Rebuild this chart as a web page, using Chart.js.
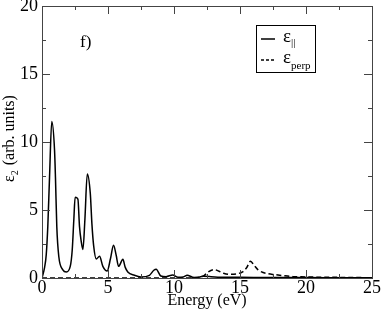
<!DOCTYPE html>
<html>
<head>
<meta charset="utf-8">
<script src="https://cdn.jsdelivr.net/npm/chart.js@4.4.1/dist/chart.umd.min.js"></script>
<style>
  html, body { margin: 0; padding: 0; background: #fff; }
  #wrap { width: 382px; height: 314px; }
</style>
</head>
<body>
<div id="wrap"><canvas id="epsChart" width="382" height="314"></canvas></div>
<script>
// eps parallel (solid line)
const energyPar = [0, 0.2, 0.32, 0.44, 0.57, 0.74, 0.95, 1.02, 1.12, 1.27, 1.58, 1.84, 2.14, 2.29, 2.41, 2.51,
  2.72, 2.84, 2.97, 3.1, 3.25, 3.43, 3.66, 3.78, 3.91, 4.11, 4.36, 4.61, 4.94, 5.19, 5.42, 5.62, 5.8, 6.13,
  6.3, 6.5, 7.0, 7.5, 8.14, 8.47, 8.65, 9.0, 9.4, 9.9, 10.3, 10.7, 11.0, 11.4, 11.7, 12.2, 12.8, 13.5, 15,
  17, 20, 22.5, 25];
const epsPar = [0, 0.8, 1.7, 3.8, 7.4, 11.5, 9.4, 7.4, 3.8, 1.6, 0.6, 0.44, 0.85, 2.06, 4.26, 5.93,
  5.8, 3.8, 2.7, 2.1, 4.3, 7.65, 6.2, 4.0, 2.4, 1.4, 1.6, 0.86, 0.52, 1.43, 2.4, 1.67, 0.86, 1.37,
  0.8, 0.44, 0.2, 0.08, 0.2, 0.57, 0.65, 0.15, 0.1, 0.22, 0.06, 0.08, 0.2, 0.06, 0.03, 0.12, 0.1, 0.06, 0.05,
  0.04, 0.03, 0.02, 0.01];

// eps perp (dashed line)
const energyPerp = [0, 3, 6, 9, 11, 12, 12.3, 12.6, 13.05, 13.4, 13.75, 14.2, 14.7, 15.2, 15.5, 15.8, 16.05,
  16.35, 16.7, 17.1, 17.6, 18.2, 19, 20, 21, 22, 23, 24, 25];
const epsPerp = [0, 0, 0, 0, 0, 0.08, 0.2, 0.45, 0.62, 0.5, 0.35, 0.27, 0.3, 0.45, 0.75, 1.23, 0.95,
  0.62, 0.42, 0.32, 0.25, 0.18, 0.1, 0.08, 0.06, 0.05, 0.04, 0.03, 0.02];

const xMin = 0, xMax = 25, xStep = 5;
const yMin = 0, yMax = 20, yStep = 5;

const serif = "'Liberation Serif', 'Times New Roman', serif";

function toPoints(xs, ys) {
  return xs.map((v, i) => ({ x: v, y: ys[i] }));
}

// frame, inward ticks, legend and labels with subscripts
const decorPlugin = {
  id: "decor",
  afterDraw(chart) {
    const { ctx, chartArea: a, scales: { x, y } } = chart;
    ctx.save();
    ctx.strokeStyle = "#444";
    ctx.lineWidth = 1;
    ctx.strokeRect(a.left + 0.5, a.top + 0.5, a.right - a.left, a.bottom - a.top);

    ctx.beginPath();
    for (let v = xMin; v <= xMax; v += xStep / 2) {
      const px = Math.round(x.getPixelForValue(v)) + 0.5;
      const len = v % xStep === 0 ? 8 : 4;
      ctx.moveTo(px, a.bottom); ctx.lineTo(px, a.bottom - len);
      ctx.moveTo(px, a.top); ctx.lineTo(px, a.top + len);
    }
    for (let v = yMin; v <= yMax; v += yStep / 2) {
      const py = Math.round(y.getPixelForValue(v)) + 0.5;
      const len = v % yStep === 0 ? 8 : 4;
      ctx.moveTo(a.left, py); ctx.lineTo(a.left + len, py);
      ctx.moveTo(a.right, py); ctx.lineTo(a.right - len, py);
    }
    ctx.stroke();

    // legend box
    ctx.strokeStyle = "#000";
    ctx.strokeRect(256.5, 25.5, 59, 47);
    ctx.lineWidth = 1.5;
    ctx.beginPath();
    ctx.moveTo(261, 39); ctx.lineTo(275, 39);
    ctx.stroke();
    ctx.setLineDash([3, 2]);
    ctx.beginPath();
    ctx.moveTo(261, 60); ctx.lineTo(275, 60);
    ctx.stroke();
    ctx.setLineDash([]);

    ctx.fillStyle = "#000";
    ctx.textBaseline = "alphabetic";
    ctx.textAlign = "left";
    ctx.font = "19px " + serif;
    ctx.fillText("\u03b5", 283, 42);
    ctx.fillText("\u03b5", 283, 63);
    ctx.font = "11px " + serif;
    ctx.fillText("||", 291, 46);
    ctx.fillText("perp", 291, 69);

    // panel label
    ctx.font = "17px " + serif;
    ctx.fillText("f)", 80, 47);

    // y title
    ctx.translate(14, 182);
    ctx.rotate(-Math.PI / 2);
    ctx.font = "16px " + serif;
    ctx.fillText("\u03b5", 0, 0);
    let w = ctx.measureText("\u03b5").width;
    ctx.font = "10px " + serif;
    ctx.fillText("2", w, 4);
    w += ctx.measureText("2").width + 1;
    ctx.font = "16px " + serif;
    ctx.fillText(" (arb. units)", w, 0);
    ctx.restore();
  }
};

new Chart(document.getElementById("epsChart"), {
  type: "line",
  data: {
    datasets: [
      {
        label: "eps_par",
        data: toPoints(energyPar, epsPar),
        borderColor: "#000",
        borderWidth: 1.5,
        pointRadius: 0,
        cubicInterpolationMode: "monotone",
        fill: false
      },
      {
        label: "eps_perp",
        data: toPoints(energyPerp, epsPerp),
        borderColor: "#000",
        borderWidth: 1.5,
        borderDash: [5, 3],
        pointRadius: 0,
        cubicInterpolationMode: "monotone",
        fill: false
      }
    ]
  },
  options: {
    responsive: false,
    animation: false,
    devicePixelRatio: 1,
    layout: { padding: { top: 6, right: 10, left: 0, bottom: 0 } },
    plugins: { legend: { display: false }, tooltip: { enabled: false } },
    scales: {
      x: {
        type: "linear",
        min: xMin,
        max: xMax,
        afterFit(s) {
          s.height = 36;
          s.paddingLeft = 0;
          s.paddingRight = 0;
        },
        ticks: {
          stepSize: xStep,
          maxRotation: 0,
          autoSkip: false,
          padding: -1,
          color: "#000",
          font: { family: serif, size: 18 }
        },
        grid: { display: false, drawTicks: false },
        border: { display: false },
        title: {
          display: true,
          text: "Energy (eV)",
          color: "#000",
          padding: { top: 0, bottom: 4 },
          font: { family: serif, size: 16 }
        }
      },
      y: {
        min: yMin,
        max: yMax,
        afterFit(s) {
          s.width = 42;
          s.paddingTop = 0;
          s.paddingBottom = 0;
        },
        ticks: {
          stepSize: yStep,
          padding: 4,
          color: "#000",
          font: { family: serif, size: 18 }
        },
        grid: { display: false, drawTicks: false },
        border: { display: false }
      }
    }
  },
  plugins: [decorPlugin]
});
</script>
</body>
</html>
